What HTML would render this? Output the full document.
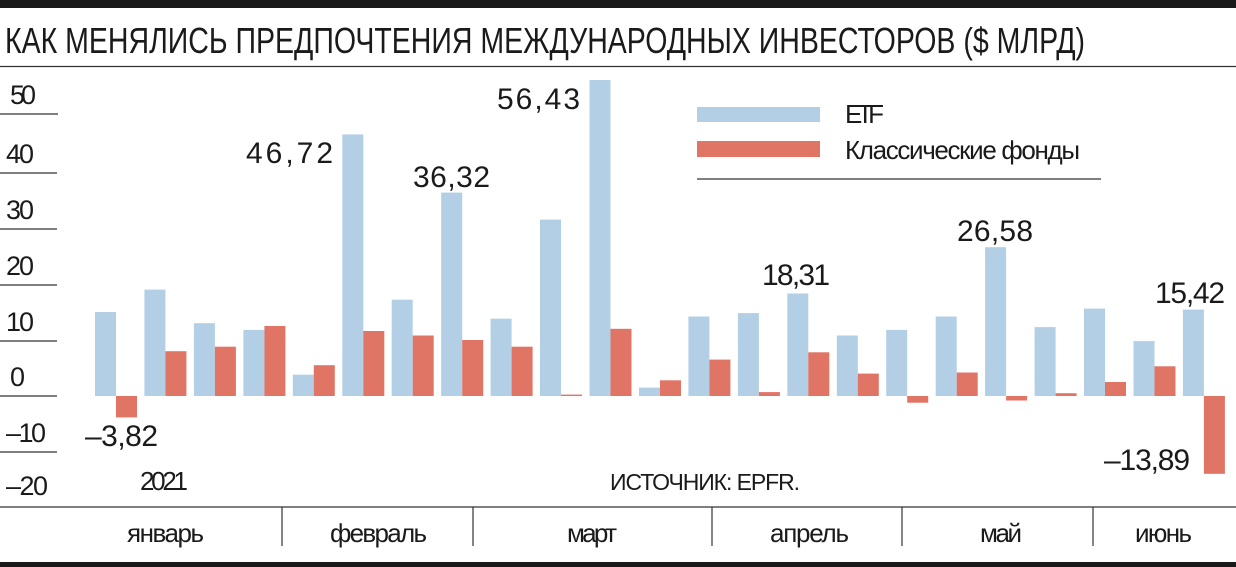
<!DOCTYPE html>
<html><head><meta charset="utf-8"><style>
body{margin:0;background:#fff;}
svg{display:block;}
text{font-family:"Liberation Sans Narrow","Liberation Sans",sans-serif;fill:#1a1a1a;}
</style></head><body>
<svg width="1236" height="567" viewBox="0 0 1236 567" xmlns="http://www.w3.org/2000/svg">
<rect x="0" y="0" width="1236" height="8" fill="#1a1a1a"/>
<text x="5" y="53" font-size="36" textLength="1080" lengthAdjust="spacingAndGlyphs">КАК МЕНЯЛИСЬ ПРЕДПОЧТЕНИЯ МЕЖДУНАРОДНЫХ ИНВЕСТОРОВ ($ МЛРД)</text>
<line x1="0" y1="66.5" x2="1236" y2="66.5" stroke="#333" stroke-width="1.2"/>
<g stroke="#333" stroke-width="1.2">
<line x1="0" y1="114" x2="58" y2="114"/><line x1="0" y1="173" x2="57" y2="173"/>
<line x1="0" y1="229" x2="57" y2="229"/><line x1="0" y1="285" x2="57" y2="285"/>
<line x1="0" y1="341" x2="57" y2="341"/><line x1="0" y1="396" x2="57" y2="396"/>
<line x1="0" y1="452" x2="57" y2="452"/>
</g>
<g font-size="27" lengthAdjust="spacingAndGlyphs">
<text x="10" y="104" textLength="26">50</text><text x="6" y="163" textLength="28">40</text><text x="6" y="219" textLength="28">30</text>
<text x="6" y="275" textLength="28">20</text><text x="6" y="331" textLength="28">10</text><text x="10" y="386" textLength="14">0</text>
<text x="6" y="442" textLength="40">–10</text><text x="6" y="495" textLength="42">–20</text>
</g>
<g id="bars"></g>
<g font-size="30" lengthAdjust="spacingAndGlyphs">
<text x="85" y="446" textLength="73">–3,82</text>
<text x="140" y="490" font-size="26" textLength="48">2021</text>
<text x="246" y="163" textLength="87">46,72</text>
<text x="413" y="187" textLength="77">36,32</text>
<text x="497" y="109" textLength="83">56,43</text>
<text x="762" y="285" textLength="68">18,31</text>
<text x="957" y="241" textLength="76">26,58</text>
<text x="1155" y="303" textLength="70">15,42</text>
<text x="1104" y="470" textLength="86">–13,89</text>
<text x="610" y="490" font-size="23" textLength="190">ИСТОЧНИК: EPFR.</text>
</g>
<rect x="697" y="107" width="123" height="15" fill="#b3cfe5"/>
<rect x="697" y="141" width="123" height="16" fill="#e07465"/>
<g font-size="26" lengthAdjust="spacingAndGlyphs">
<text x="845" y="123" textLength="39">ETF</text>
<text x="845" y="159" textLength="235">Классические фонды</text>
</g>
<line x1="697" y1="179" x2="1101" y2="179" stroke="#333" stroke-width="1.2"/>
<line x1="0" y1="507" x2="1236" y2="507" stroke="#333" stroke-width="1.2"/>
<g stroke="#333" stroke-width="1.2">
<line x1="282" y1="507" x2="282" y2="546"/><line x1="473" y1="507" x2="473" y2="546"/>
<line x1="712" y1="507" x2="712" y2="546"/><line x1="902" y1="507" x2="902" y2="546"/>
<line x1="1093" y1="507" x2="1093" y2="546"/>
</g>
<g font-size="26" lengthAdjust="spacingAndGlyphs">
<text x="127" y="542" textLength="77">январь</text><text x="330" y="542" textLength="97">февраль</text>
<text x="567" y="542" textLength="50">март</text><text x="770" y="542" textLength="79">апрель</text>
<text x="980" y="542" textLength="42">май</text><text x="1135" y="542" textLength="57">июнь</text>
</g>
<rect x="0" y="562" width="1236" height="5" fill="#1a1a1a"/>
</svg>
<script>
var b=[15,19,13,11.8,3.8,46.72,17.2,36.32,13.8,31.5,56.43,1.5,14.2,14.8,18.31,10.8,11.8,14.2,26.58,12.3,15.6,9.8,15.42];
var r=[-3.82,8,8.8,12.5,5.5,11.6,10.8,10,8.8,0.25,12,2.8,6.5,0.7,7.8,4,-1.2,4.2,-0.8,0.5,2.5,5.3,-13.89];
var g=document.getElementById('bars'),s='',k=5.6,z=396;
function rc(x,v,c){var h=Math.abs(v)*k;var y=v>=0?z-h:z;return '<rect x="'+x.toFixed(1)+'" y="'+y.toFixed(1)+'" width="21" height="'+h.toFixed(1)+'" fill="'+c+'"/>';}
for(var i=0;i<23;i++){var x=95+i*49.45;
s+=rc(x,b[i],'#b3cfe5')+rc(x+21,r[i],'#e07465');}
g.innerHTML=s;
</script>
</body></html>
